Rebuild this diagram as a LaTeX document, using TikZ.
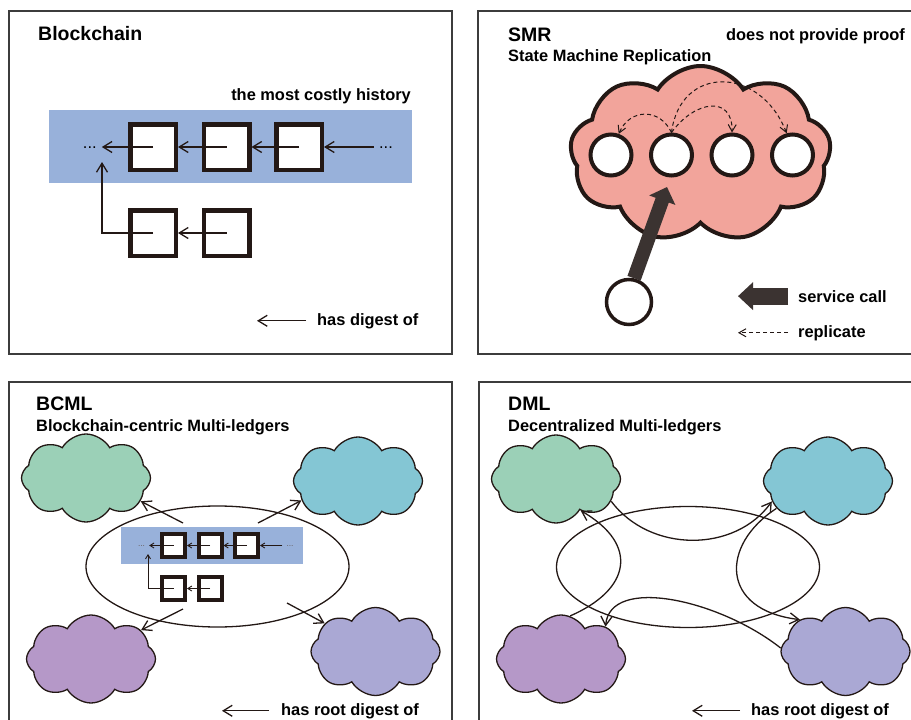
\documentclass[tikz,border=0pt]{standalone}
\usepackage{fontspec}
\setmainfont{Liberation Sans}
\usetikzlibrary{arrows.meta}
\usetikzlibrary{shapes.symbols}
\usetikzlibrary{shapes.geometric}
\usetikzlibrary{positioning}
\definecolor{bandblue}{HTML}{98B1DA}
\definecolor{smrpink}{HTML}{F2A49B}
\definecolor{ledgergreen}{HTML}{9BD0B7}
\definecolor{ledgercyan}{HTML}{84C6D4}
\definecolor{ledgerpurple}{HTML}{B598C8}
\definecolor{ledgerlilac}{HTML}{AAA8D4}
\definecolor{inkblack}{HTML}{231815}
\definecolor{calldark}{HTML}{3B3331}
\definecolor{framegray}{HTML}{3C3C3C}
\tikzset{panel/.style = {draw=framegray, line width=1.5pt}}
\tikzset{title/.style = {anchor=base west, inner sep=0pt,
                         font=\fontsize{19.5}{23}\selectfont\bfseries}}
\tikzset{smalltext/.style = {anchor=base west, inner sep=0pt,
                             font=\fontsize{16.4}{19}\selectfont\bfseries}}
\tikzset{blk/.style = {draw=inkblack, fill=white, line width=4.5pt,
                       minimum size=45.5pt, inner sep=0pt}}
\tikzset{minblk/.style = {draw=inkblack, fill=white, line width=4pt,
                          minimum size=23pt, inner sep=0pt}}
\tikzset{dots/.style = {anchor=base, inner xsep=5pt, inner ysep=0pt,
                        font=\fontsize{16.4}{19}\selectfont}}
\tikzset{minidots/.style = {anchor=base, inner xsep=4pt, inner ysep=0pt,
                            text=inkblack!70, font=\fontsize{8.4}{10}\selectfont}}
\tikzset{digest/.style = {draw=inkblack, line width=1.3pt,
                          -{Straight Barb[length=9pt, width=11pt]}}}
\tikzset{minidigest/.style = {draw=inkblack, line width=0.9pt,
                              -{Straight Barb[length=4pt, width=5pt]}}}
\tikzset{repl/.style = {draw=inkblack, line width=1pt, dash pattern=on 4pt off 3pt,
                        -{Straight Barb[length=7pt, width=8pt]}}}
\tikzset{call/.style = {draw=calldark, line width=14pt,
                        -{Triangle[length=14pt, width=27pt]}}}
\tikzset{calllegend/.style = {draw=calldark, line width=17pt,
                              -{Triangle[length=15pt, width=27pt]}}}
\tikzset{replica/.style = {circle, draw=inkblack, fill=white, line width=4pt,
                           minimum size=41pt, inner sep=0pt}}
\tikzset{client/.style = {circle, draw=inkblack, fill=white, line width=3.5pt,
                          minimum size=45pt, inner sep=0pt}}
\tikzset{smrcloud/.style = {cloud, cloud puffs=9, cloud puff arc=115, cloud ignores aspect,
                            draw=inkblack, fill=smrpink, line width=4pt,
                            minimum width=261pt, minimum height=176pt}}
\tikzset{ledger/.style = {cloud, cloud puffs=8, cloud puff arc=120, cloud ignores aspect,
                          draw=inkblack, line width=1.3pt,
                          minimum width=129pt, minimum height=88pt}}
\tikzset{hub/.style = {ellipse, draw=inkblack, line width=1.3pt,
                       minimum width=263pt, minimum height=121pt}}

\begin{document}
\begin{tikzpicture}[x=1pt, y=-1pt]
      \useasboundingbox (0,0) rectangle (911,720);

      % Blockchain
      \draw [panel] (9,11) rectangle (452,354);
      \node [title] (bctitle) at (38,40) {Blockchain};
      \node [smalltext, anchor=base east] (costly) at (411,100) {the most costly history};
      \fill [bandblue] (49,110) rectangle (412,183);
      \node [blk] (b1) at (153,147) {};
      \node [blk] (b2) at (226.5,147) {};
      \node [blk] (b3) at (299,147) {};
      \node [blk] (b4) at (153,233) {};
      \node [blk] (b5) at (226.5,233) {};
      \node [dots] (bdotl) at (89.8,148.5) {...};
      \node [dots] (bdotr) at (386,148.5) {...};
      \coordinate (fork) at (102,162);
      \draw [digest] (b2.center) -- (b1.east);
      \draw [digest] (b3.center) -- (b2.east);
      \draw [digest] (b1.center) -- (b1.center -| bdotl.east);
      \draw [digest] (bdotr.west |- b3.center) -- (b3.east);
      \draw [digest] (b5.center) -- (b4.east);
      \draw [digest] (b4.center) -| (fork);
      \node [smalltext] (hasdig) at (317,325) {has digest of};
      \draw [digest] ([xshift=-11pt]hasdig.west) -- ++(-49,0);

      % SMR
      \draw [panel] (478,11) rectangle (915,354);
      \node [title] (smrtitle) at (508,41) {SMR};
      \node [smalltext] (smrsub) at (508,61) {State Machine Replication};
      \node [smalltext] (noproof) at (726,40) {does not provide proof};
      \node [smrcloud] (smr) at (700.5,154) {};
      \node [replica] (r1) at (611,155) {};
      \node [replica] (r2) at (671.5,155) {};
      \node [replica] (r3) at (732,155) {};
      \node [replica] (r4) at (792.5,155) {};
      \draw [repl] (r2.north) .. controls (660,108) and (630,108) .. (r1.70);
      \draw [repl] (r2.north) .. controls (695,100) and (733,95) .. (r3.north);
      \draw [repl] (r2.north) .. controls (680,65) and (760,65) .. (r4.105);
      \node [client] (c0) at (629,302) {};
      \coordinate (callend) at (667,187);
      \draw [call] (c0.78) -- (callend);
      \node [smalltext] (svc) at (798,302) {service call};
      \node [smalltext] (rep) at (798,337) {replicate};
      \draw [calllegend] ([xshift=-10pt]svc.west) -- ++(-50,0);
      \draw [repl] ([xshift=-10pt]rep.west) -- ++(-50,0);

      % BCML
      \draw [panel] (9,382) rectangle (452,724);
      \node [title] (bcmltitle) at (36,410) {BCML};
      \node [smalltext] (bcmlsub) at (36,431) {Blockchain-centric Multi-ledgers};
      \node [ledger, fill=ledgergreen] (lg) at (86,478) {};
      \node [ledger, fill=ledgercyan] (lc) at (358,481) {};
      \node [ledger, fill=ledgerpurple] (lp) at (91,659) {};
      \node [ledger, fill=ledgerlilac] (ll) at (375.5,651.5) {};
      \node [hub] (hub) at (217.5,566.5) {};
      \fill [bandblue] (121,527) rectangle (303,564);
      \node [minblk] (m1) at (173.5,545.5) {};
      \node [minblk] (m2) at (210,545.5) {};
      \node [minblk] (m3) at (246.5,545.5) {};
      \node [minblk] (m4) at (173.5,588.5) {};
      \node [minblk] (m5) at (210,588.5) {};
      \node [minidots] (mdotl) at (141.5,546.5) {...};
      \node [minidots] (mdotr) at (290,546.5) {...};
      \coordinate (mfork) at (148,554);
      \draw [minidigest] (m2.center) -- (m1.east);
      \draw [minidigest] (m3.center) -- (m2.east);
      \draw [minidigest] (m1.center) -- (m1.center -| mdotl.east);
      \draw [minidigest] (mdotr.west |- m3.center) -- (m3.east);
      \draw [minidigest] (m5.center) -- (m4.east);
      \draw [minidigest] (m4.center) -| (mfork);
      \coordinate (og) at (183,523);
      \coordinate (oc) at (258,523);
      \coordinate (op) at (183,609);
      \coordinate (ol) at (287,603);
      \draw [digest] (og) -- (lg.-23);
      \draw [digest] (oc) -- (lc.199);
      \draw [digest] (op) -- (lp.30);
      \draw [digest] (ol) -- (ll.151);
      \node [smalltext] (bcmlleg) at (281,715) {has root digest of};
      \draw [digest] ([xshift=-12pt]bcmlleg.west) -- ++(-47,0);

      % DML
      \draw [panel] (479,382) rectangle (915,724);
      \node [title] (dmltitle) at (508,410) {DML};
      \node [smalltext] (dmlsub) at (508,431) {Decentralized Multi-ledgers};
      \node [ledger, fill=ledgergreen] (dg) at (556,479) {};
      \node [ledger, fill=ledgercyan] (dc) at (828,481) {};
      \node [ledger, fill=ledgerpurple] (dp) at (561,659) {};
      \node [ledger, fill=ledgerlilac] (dv) at (845.5,651.5) {};
      \node [hub] (dhub) at (688,567) {};
      \draw [digest] (dg.-22) .. controls (650,553) and (735,553) .. (dc.200);
      \draw [digest] (dc.208) .. controls (720,545) and (720,610) .. (dv.145);
      \draw [digest] (dv.177) .. controls (720,600) and (610,575) .. (dp.36);
      \draw [digest] (dp.78) .. controls (630,590) and (640,545) .. (dg.-52);
      \node [smalltext] (dmlleg) at (751,715) {has root digest of};
      \draw [digest] ([xshift=-11pt]dmlleg.west) -- ++(-48,0);
\end{tikzpicture}
\end{document}
